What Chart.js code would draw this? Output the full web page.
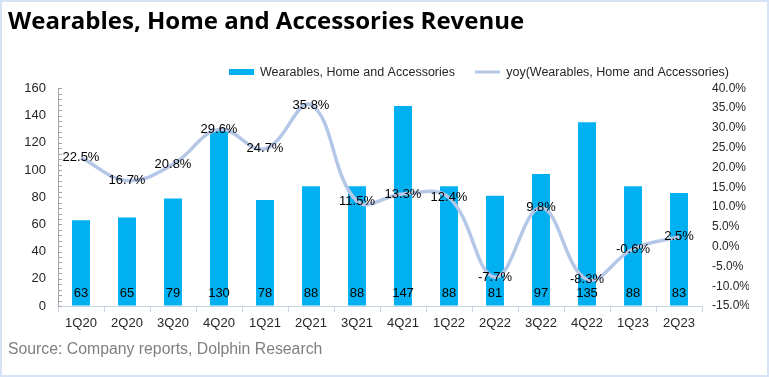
<!DOCTYPE html>
<html>
<head>
<meta charset="utf-8">
<title>Wearables, Home and Accessories Revenue</title>
<script src="https://cdn.jsdelivr.net/npm/chart.js@4"></script>
<style>
  html, body { margin: 0; padding: 0; background: #fff; }
  #wrap { width: 769px; height: 377px; }
</style>
</head>
<body>
<div id="wrap"><canvas id="revenueChart" width="769" height="377"></canvas></div>
<script>
// Quarterly data
const quarters = ["1Q20", "2Q20", "3Q20", "4Q20", "1Q21", "2Q21", "3Q21", "4Q21",
                  "1Q22", "2Q22", "3Q22", "4Q22", "1Q23", "2Q23"];
const revenue = [63, 65, 79, 130, 78, 88, 88, 147, 88, 81, 97, 135, 88, 83];
const yoyGrowth = [22.5, 16.7, 20.8, 29.6, 24.7, 35.8, 11.5, 13.3, 12.4, -7.7, 9.8, -8.3, -0.6, 2.5];

const revenueAxis = { min: 0, max: 160, step: 20, minorStep: 4 };
const yoyAxis = { min: -15, max: 40, step: 5 };

const barColor = '#00B0F0';
const lineColor = '#B4C7E7';
const labelFont = '"Liberation Sans", Arial, sans-serif';
const titleFont = '"Open Sans", "Liberation Sans", sans-serif';

// small bar swatch for the legend
const barSwatch = document.createElement('canvas');
barSwatch.width = 25;
barSwatch.height = 6;
const sw = barSwatch.getContext('2d');
sw.fillStyle = barColor;
sw.fillRect(0, 0, 25, 6);

// white page + thin light-blue frame
const framePlugin = {
  id: 'frame',
  beforeDraw(chart) {
    const c = chart.ctx;
    c.save();
    c.fillStyle = '#fff';
    c.fillRect(0, 0, chart.width, chart.height);
    c.restore();
  },
  afterDraw(chart) {
    const c = chart.ctx;
    c.save();
    c.strokeStyle = '#D5E3F4';
    c.lineWidth = 2;
    c.strokeRect(1, 1, chart.width - 2, chart.height - 2);
    c.restore();
  }
};

// minor / major tick marks on the left axis (pointing inwards)
const minorTicksPlugin = {
  id: 'minorTicks',
  afterDraw(chart) {
    const s = chart.scales.yRev;
    const c = chart.ctx;
    c.save();
    c.strokeStyle = '#A6A6A6';
    c.lineWidth = 1;
    for (let v = revenueAxis.min; v <= revenueAxis.max; v += revenueAxis.minorStep) {
      const y = Math.round(s.getPixelForValue(v)) + 0.5;
      c.beginPath();
      c.moveTo(s.right, y);
      c.lineTo(s.right + 4, y);
      c.stroke();
    }
    c.restore();
  }
};

// value labels: revenue at bar base, yoy on the line points
const valueLabelsPlugin = {
  id: 'valueLabels',
  afterDatasetsDraw(chart) {
    const c = chart.ctx;
    c.save();
    c.font = '13px ' + labelFont;
    c.fillStyle = '#000';
    c.textAlign = 'center';
    c.textBaseline = 'middle';
    const base = chart.scales.yRev.getPixelForValue(0);
    chart.getDatasetMeta(0).data.forEach((el, i) => {
      c.fillText(String(revenue[i]), el.x, base - 13);
    });
    chart.getDatasetMeta(1).data.forEach((el, i) => {
      c.fillText(yoyGrowth[i].toFixed(1) + '%', el.x, el.y);
    });
    c.restore();
  }
};

const ctx = document.getElementById('revenueChart').getContext('2d');
new Chart(ctx, {
  type: 'bar',
  data: {
    labels: quarters,
    datasets: [
      {
        label: 'Wearables, Home and Accessories',
        data: revenue,
        yAxisID: 'yRev',
        backgroundColor: barColor,
        barPercentage: 0.39,
        categoryPercentage: 1,
        order: 1
      },
      {
        type: 'line',
        label: 'yoy(Wearables, Home and Accessories)',
        data: yoyGrowth,
        yAxisID: 'yPct',
        borderColor: lineColor,
        backgroundColor: lineColor,
        borderWidth: 3.5,
        tension: 0.4,
        pointRadius: 0,
        order: 0
      }
    ]
  },
  options: {
    responsive: false,
    animation: false,
    layout: { padding: { left: 8, right: 20, top: 0, bottom: 0 } },
    plugins: {
      tooltip: { enabled: false },
      title: {
        display: true,
        text: 'Wearables, Home and Accessories Revenue',
        align: 'start',
        color: '#000',
        font: { family: titleFont, size: 24, weight: 'bold' },
        padding: { top: 8, bottom: 9 }
      },
      legend: {
        display: true,
        position: 'top',
        align: 'end',
        labels: {
          usePointStyle: true,
          pointStyleWidth: 25,
          padding: 20,
          color: '#262626',
          font: { family: labelFont, size: 12.5 },
          sort: (a, b) => a.datasetIndex - b.datasetIndex,
          generateLabels(chart) {
            return chart.data.datasets.map((ds, i) => ({
              text: ds.label,
              datasetIndex: i,
              hidden: false,
              fontColor: '#262626',
              pointStyle: ds.type === 'line' ? 'line' : barSwatch,
              strokeStyle: lineColor,
              fillStyle: ds.type === 'line' ? lineColor : barColor,
              lineWidth: ds.type === 'line' ? 3 : 0
            }));
          }
        }
      },
      subtitle: {
        display: true,
        position: 'bottom',
        align: 'start',
        text: 'Source: Company reports, Dolphin Research',
        color: '#7F7F7F',
        font: { family: labelFont, size: 15.8 },
        padding: { top: 0, bottom: 18 }
      }
    },
    scales: {
      x: {
        offset: true,
        grid: { display: true, drawOnChartArea: false, drawTicks: true, tickLength: 6, color: '#C6D3E6', offset: true },
        border: { display: true, color: '#C6D3E6' },
        ticks: { color: '#262626', padding: 4, font: { family: labelFont, size: 13 }, maxRotation: 0 },
        afterFit(scale) { scale.height = 34; }
      },
      yRev: {
        position: 'left',
        min: revenueAxis.min,
        max: revenueAxis.max,
        ticks: { stepSize: revenueAxis.step, color: '#262626', padding: 12, font: { family: labelFont, size: 13 } },
        grid: { display: true, drawOnChartArea: false, drawTicks: false },
        border: { display: true, color: '#A6A6A6' },
        afterFit(scale) { scale.width = 50; }
      },
      yPct: {
        position: 'right',
        min: yoyAxis.min,
        max: yoyAxis.max,
        ticks: {
          stepSize: yoyAxis.step,
          color: '#262626',
          padding: 10,
          font: { family: labelFont, size: 12 },
          callback: v => v.toFixed(1) + '%'
        },
        grid: { display: false, drawTicks: false },
        border: { display: false },
        afterFit(scale) { scale.width = 47; }
      }
    }
  },
  plugins: [framePlugin, minorTicksPlugin, valueLabelsPlugin]
});
</script>
</body>
</html>
